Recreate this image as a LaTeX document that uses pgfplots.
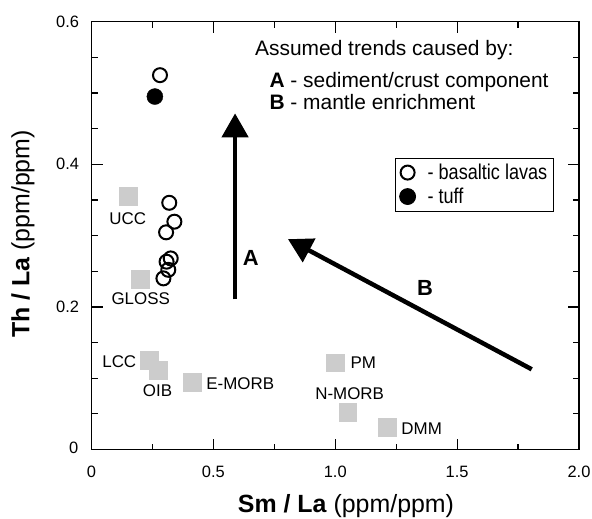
\documentclass[border=0pt]{standalone}
\usepackage{fontspec}
\setmainfont{Liberation Sans}
\usepackage{pgfplots}
\pgfplotsset{compat=1.18}
\usetikzlibrary{arrows.meta}
\definecolor{sqgray}{RGB}{204,204,204}
\begin{document}
\begin{tikzpicture}
\begin{axis}[
  scale only axis, width=487.5bp, height=427.8bp,
  xmin=0, xmax=2, ymin=0, ymax=0.6,
  xtick={0,0.5,1,1.5,2}, xticklabels={},
  ytick={0,0.2,0.4,0.6}, yticklabels={},
  minor x tick num=1, minor y tick num=3,
  tick align=inside, major tick length=11bp, minor tick length=6bp,
  axis line style={line width=1.5bp},
  every tick/.style={line width=1.2bp, black},
  xlabel={\textbf{Sm / La} (ppm/ppm)},
  ylabel={\textbf{Th / La} (ppm/ppm)},
  label style={font=\fontsize{25}{28}\selectfont},
  x label style={at={(axis description cs:0.522,-0.132)}, anchor=center},
  y label style={at={(axis description cs:-0.1405,0.5037)}, anchor=center},
  clip=false,
  legend style={at={(axis cs:1.246,0.4093)}, anchor=north west, draw=black, line width=0.8bp,
    font=\fontsize{21.5}{22.7}\selectfont, inner xsep=4bp, inner ysep=4bp, row sep=3bp},
  legend cell align=left,
  legend image code/.code={\draw[#1] plot coordinates {(7bp,0bp)};},
]
% reference reservoirs (grey squares)
\addplot[only marks, mark=square*, mark size=8.8bp, color=sqgray, forget plot] coordinates {
  (0.151,0.355) (0.199,0.239) (0.236,0.125) (0.274,0.111) (0.412,0.094)
  (0.999,0.122) (1.051,0.052) (1.214,0.031)};
% basaltic lavas
\addplot[only marks, mark=o, mark size=7bp, mark options={line width=2bp}, black] coordinates {
  (0.281,0.525) (0.319,0.346) (0.340,0.3195) (0.306,0.3046)
  (0.325,0.268) (0.308,0.2634) (0.315,0.252) (0.295,0.240)};
\addlegendentry{\hspace{10bp}\scalebox{0.845}[1]{- basaltic lavas}}
% tuff
\addplot[only marks, mark=*, mark size=8bp, black] coordinates {(0.260,0.495)};
\addlegendentry{\hspace{10bp}\scalebox{0.845}[1]{- tuff}}
% trend arrows
\addplot[line width=4.5bp, -{Triangle[width=26bp,length=24bp]}, forget plot] coordinates {(0.589,0.2107) (0.589,0.4715)};
\addplot[line width=4.5bp, -{Triangle[width=26bp,length=24bp]}, forget plot] coordinates {(1.806,0.1125) (0.806,0.295)};
% tick labels
\begin{scope}[every node/.style={inner sep=0pt, font=\fontsize{16.5}{18}\selectfont}]
\node[yshift=-22bp] at (axis cs:0,0) {0};
\node[yshift=-22bp] at (axis cs:0.5,0) {0.5};
\node[yshift=-22bp] at (axis cs:1,0) {1.0};
\node[yshift=-22bp] at (axis cs:1.5,0) {1.5};
\node[yshift=-22bp] at (axis cs:2,0) {2.0};
\node[anchor=east, xshift=-13bp, yshift=2bp] at (axis cs:0,0) {0};
\node[anchor=east, xshift=-12.2bp] at (axis cs:0,0.2) {0.2};
\node[anchor=east, xshift=-12.2bp] at (axis cs:0,0.4) {0.4};
\node[anchor=east, xshift=-12.2bp] at (axis cs:0,0.6) {0.6};
\end{scope}
% labels
\begin{scope}[every node/.style={inner sep=0pt, font=\fontsize{17}{19}\selectfont}]
\node at (axis cs:0.1485,0.3243) {UCC};
\node at (axis cs:0.2018,0.2121) {GLOSS};
\node at (axis cs:0.114,0.1231) {LCC};
\node at (axis cs:0.2708,0.0825) {OIB};
\node at (axis cs:0.6105,0.0919) {E-MORB};
\node at (axis cs:1.115,0.1213) {PM};
\node at (axis cs:1.059,0.0788) {N-MORB};
\node at (axis cs:1.3547,0.0297) {DMM};
\end{scope}
\node[inner sep=0pt, font=\fontsize{22}{24}\selectfont\bfseries] at (axis cs:0.654,0.2682) {A};
\node[inner sep=0pt, font=\fontsize{22}{24}\selectfont\bfseries] at (axis cs:1.368,0.2261) {B};
\begin{scope}[every node/.style={inner sep=0pt, anchor=base west, font=\fontsize{21}{24}\selectfont}]
\node at (axis cs:0.6708,0.5522) {Assumed trends caused by:};
\node at (axis cs:0.7295,0.5077) {\textbf{A} - sediment/crust component};
\node at (axis cs:0.7295,0.4773) {\textbf{B} - mantle enrichment};
\end{scope}
\end{axis}
\pgfresetboundingbox
\path[use as bounding box] (current axis.south west) ++(-91.5bp,-69.5bp) rectangle ++(592bp,519bp);
\end{tikzpicture}
\end{document}
